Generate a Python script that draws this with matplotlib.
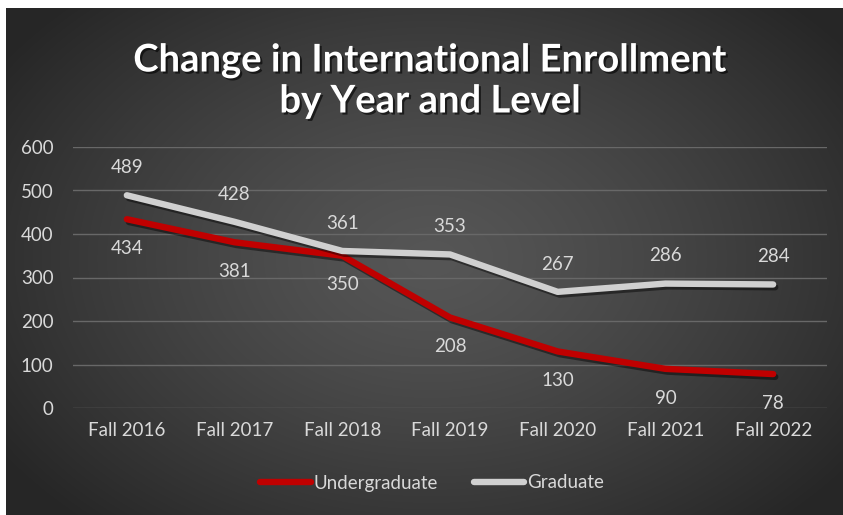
import numpy as np
import matplotlib
matplotlib.use("Agg")
import matplotlib.pyplot as plt
import matplotlib.patheffects as pe

## === Data === ##

terms = ["Fall 2016", "Fall 2017", "Fall 2018", "Fall 2019", "Fall 2020", "Fall 2021", "Fall 2022"]
undergraduate = [434, 381, 350, 208, 130, 90, 78]
graduate = [489, 428, 361, 353, 267, 286, 284]
y_ticks = [0, 100, 200, 300, 400, 500, 600]

## === Style === ##

label_color = "#d9d9d9"
grid_color = "#686868"
red = "#c00000"
grey = "#d0d0d0"
font = "Lato"

plt.rcParams["font.family"] = [font, "DejaVu Sans"]

fig = plt.figure(figsize=(8.43, 5.15), dpi=100, facecolor="white")

# dark radial background panel (white margin left and top)
bg = fig.add_axes([6 / 843, 0, 1 - 6 / 843, 1 - 8 / 515])
bg.set_axis_off()
h, w = 507, 837
yy, xx = np.mgrid[0:h, 0:w]
cx, cy = 425, 250
r = np.sqrt(((xx - cx) / 520.0) ** 2 + ((yy - cy) / 360.0) ** 2)
r = np.clip(r, 0, 1)
shade = 0x56 / 255 - (0x56 - 0x26) / 255 * r ** 1.3
bg.imshow(np.dstack([shade, shade, shade]), aspect="auto", extent=[0, 1, 0, 1])
bg.set_xlim(0, 1)
bg.set_ylim(0, 1)

# plot area
ax = fig.add_axes([73 / 843, 107 / 515, 754 / 843, 261 / 515])
ax.patch.set_alpha(0)
x = np.arange(len(terms))

shadow = [pe.SimpleLineShadow(offset=(1.5, -2), shadow_color="black", alpha=0.45), pe.Normal()]
ax.plot(x, undergraduate, color=red, lw=4.6, solid_capstyle="round", solid_joinstyle="round",
        label="Undergraduate", path_effects=shadow, zorder=3)
ax.plot(x, graduate, color=grey, lw=4.6, solid_capstyle="round", solid_joinstyle="round",
        label="Graduate", path_effects=shadow, zorder=3)

# value labels: graduate above, undergraduate below
for xi, v in zip(x, graduate):
    ax.annotate(str(v), (xi, v), xytext=(0, 20), textcoords="offset points",
                ha="center", va="center", color=label_color, fontsize=13.5)
for xi, v in zip(x, undergraduate):
    ax.annotate(str(v), (xi, v), xytext=(0, -21), textcoords="offset points",
                ha="center", va="center", color=label_color, fontsize=13.5)

ax.set_xlim(-0.5, len(terms) - 0.5)
ax.set_ylim(0, 600)
ax.set_yticks(y_ticks)
ax.set_xticks(x)
ax.set_xticklabels(terms)
ax.tick_params(axis="both", length=0, colors=label_color, labelsize=13.5)
ax.tick_params(axis="y", pad=14)
ax.tick_params(axis="x", pad=10)
ax.grid(axis="y", color=grid_color, lw=1)
ax.set_axisbelow(True)
for s in ax.spines.values():
    s.set_visible(False)

fig.text(0.5107, 1 - 81 / 515, "Change in International Enrollment\nby Year and Level",
         ha="center", va="center", color="white", fontsize=27.5, fontweight="bold",
         linespacing=1.25,
         path_effects=[pe.withSimplePatchShadow(offset=(1.5, -1.5), shadow_rgbFace="black", alpha=0.6)])

leg = fig.legend(loc="center", bbox_to_anchor=(432 / 843, 1 - 483 / 515), ncol=2, frameon=False,
                 fontsize=13.5, handlelength=2.7, handletextpad=0.15, columnspacing=1.9)
for t in leg.get_texts():
    t.set_color(label_color)
for l in leg.get_lines():
    l.set_path_effects([])

fig.savefig("out.png", dpi=100, facecolor=fig.get_facecolor())
